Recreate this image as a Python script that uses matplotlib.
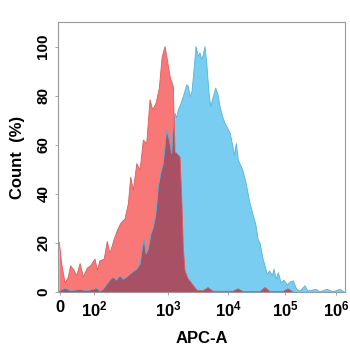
import numpy as np
import matplotlib
matplotlib.use("Agg")
import matplotlib.pyplot as plt

plt.rcParams['font.family'] = ['Liberation Sans', 'DejaVu Sans']
plt.rcParams['mathtext.fontset'] = 'custom'
plt.rcParams['mathtext.rm'] = 'Liberation Sans'
plt.rcParams['mathtext.bf'] = 'Liberation Sans:bold'

# isotype / negative control (red)
red_x = [-2, 5, 15, 24, 31, 41, 49, 59, 69, 80,
         90, 103, 111, 120, 137, 151, 164, 186, 206, 230,
         262, 291, 313, 340, 378, 419, 464, 515, 571, 621,
         689, 763, 830, 910, 978, 1080, 1225, 1309, 1397, 1585,
         1692, 1799, 1920, 2154, 2610, 3043, 3831, 4642, 5623, 12240,
         14970, 18320, 36400, 44550, 54550, 92300, 114500, 143500]
red_y = [20.2, 11.3, 3.8, 5.9, 10.7, 8.9, 6.6, 11.6, 6.1, 9.7,
         10.7, 13.4, 8.9, 12.7, 13.4, 20.6, 15.7, 21.2, 25, 28,
         29.8, 35.9, 46.8, 41.4, 52.3, 49.6, 61.9, 60.5, 78.3, 74.2,
         76.9, 83.1, 95.4, 100, 94.7, 87.8, 83.7, 57, 56.5, 55,
         38.7, 18.2, 8.6, 5.5, 2.8, 0.7, 0.5, 1.8, 0.3, 0.3,
         1.3, 0.2, 0.2, 1.8, 0.2, 0.2, 1.3, 0]

# stained sample (blue)
blue_x = [-2, 15, 31, 59, 80, 111, 120, 132, 149, 164,
          182, 202, 224, 249, 277, 306, 340, 378, 419, 445,
          474, 505, 542, 589, 633, 682, 740, 797, 863, 960,
          1051, 1153, 1211, 1309, 1397, 1485, 1692, 1799, 2050, 2180,
          2326, 2512, 2712, 2929, 3200, 3415, 3645, 3873, 4140, 4467,
          4820, 5150, 5623, 6237, 6813, 7447, 8160, 8913, 9886, 10970,
          11890, 12900, 13990, 15170, 16710, 18550, 20930, 23650, 26690, 30610,
          33590, 36870, 40620, 44550, 48900, 53830, 59800, 64090, 70340, 76230,
          85100, 95940, 110900, 129400, 145600, 169500, 196900, 246700, 282500, 405500,
          485300, 666800, 873400, 1200000, 1430000]
blue_y = [0.5, 1.5, 0.5, 1.0, 0.5, 1.5, 0.3, 1.0, 3.1, 4.8,
          6.1, 4.8, 6.6, 5.2, 6.1, 7.2, 8.3, 9.3, 11.3, 16.8,
          21.6, 15.4, 17.5, 23.6, 26.4, 31.1, 42.7, 48.2, 52.3, 66,
          61.9, 56.4, 66, 72.8, 71, 74.2, 77.6, 79.6, 84.4, 83.7,
          79.6, 81.7, 90.6, 100, 96, 97.4, 94.7, 96.7, 100, 91.9,
          81, 75.5, 79, 83.1, 80.3, 74.9, 71.4, 68.7, 66.7, 64.6,
          60.5, 55.7, 60.5, 53.7, 51.6, 48.9, 44.1, 37.3, 32.5, 27.7,
          21.6, 19.5, 14.1, 10.7, 7.2, 8.6, 6.6, 9.3, 5.2, 7.9,
          3.8, 4.8, 2.9, 4.2, 4.5, 1.1, 0.4, 2.5, 0.4, 1.1,
          0.1, 1.1, 0.1, 1.1, 0.1]

x_ticks = [0, 1e2, 1e3, 1e4, 1e5, 1e6]
x_labels = ['0', r'$\mathbf{10^2}$', r'$\mathbf{10^3}$', r'$\mathbf{10^4}$',
            r'$\mathbf{10^5}$', r'$\mathbf{10^6}$']
y_ticks = [0, 20, 40, 60, 80, 100]

# biexponential-like axis: linear below 100, log-ish above
DEC = [2, 3, 4, 5, 6, 7]
POS = [34, 108, 168, 225, 276, 327]


def fwd(x):
    x = np.asarray(x, dtype=float)
    lx = np.log10(np.maximum(x, 100.0))
    return np.where(x < 100, x * 0.34, np.interp(lx, DEC, POS))


def inv(u):
    u = np.asarray(u, dtype=float)
    return np.where(u < 34, u / 0.34, 10 ** np.interp(u, POS, DEC))


fig = plt.figure(figsize=(3.5, 3.5), dpi=100)
ax = fig.add_axes([58 / 350, 58 / 350, 287 / 350, 270 / 350])
ax.set_xscale('function', functions=(fwd, inv))


def closed(xs, ys):
    return [xs[0]] + list(xs) + [xs[-1]], [0] + list(ys) + [0]


bx, by = closed(blue_x, blue_y)
rx, ry = closed(red_x, red_y)
blue_patch = ax.fill(bx, by, color='#78cdf0', lw=0)[0]
ax.fill(rx, ry, color='#f87878', lw=0)
overlap = ax.fill(rx, ry, color='#a85064', lw=0)[0]
overlap.set_clip_path(blue_patch)
ax.plot(blue_x, blue_y, color='#4fb6e0', lw=0.6)
ax.plot(red_x, red_y, color='#e85a5a', lw=0.6)

ax.set_xlim(-6, 1.5e6)
ax.set_ylim(0, 110)
ax.set_xticks(x_ticks)
ax.set_xticklabels(x_labels, fontsize=12, fontweight='bold')
ax.xaxis.set_minor_locator(matplotlib.ticker.NullLocator())
ax.set_yticks(y_ticks)
ax.set_yticklabels([str(v) for v in y_ticks], fontsize=11, fontweight='bold',
                   rotation=90, va='center')
ax.tick_params(length=2.5, width=0.6, color='#999999', pad=3)

for s in ax.spines.values():
    s.set_color('#999999')
    s.set_linewidth(0.8)

ax.set_xlabel('APC-A', fontsize=12, fontweight='bold', labelpad=8)
ax.set_ylabel('Count  (%)', fontsize=12, fontweight='bold', labelpad=8)

fig.savefig('out.png', dpi=100)
